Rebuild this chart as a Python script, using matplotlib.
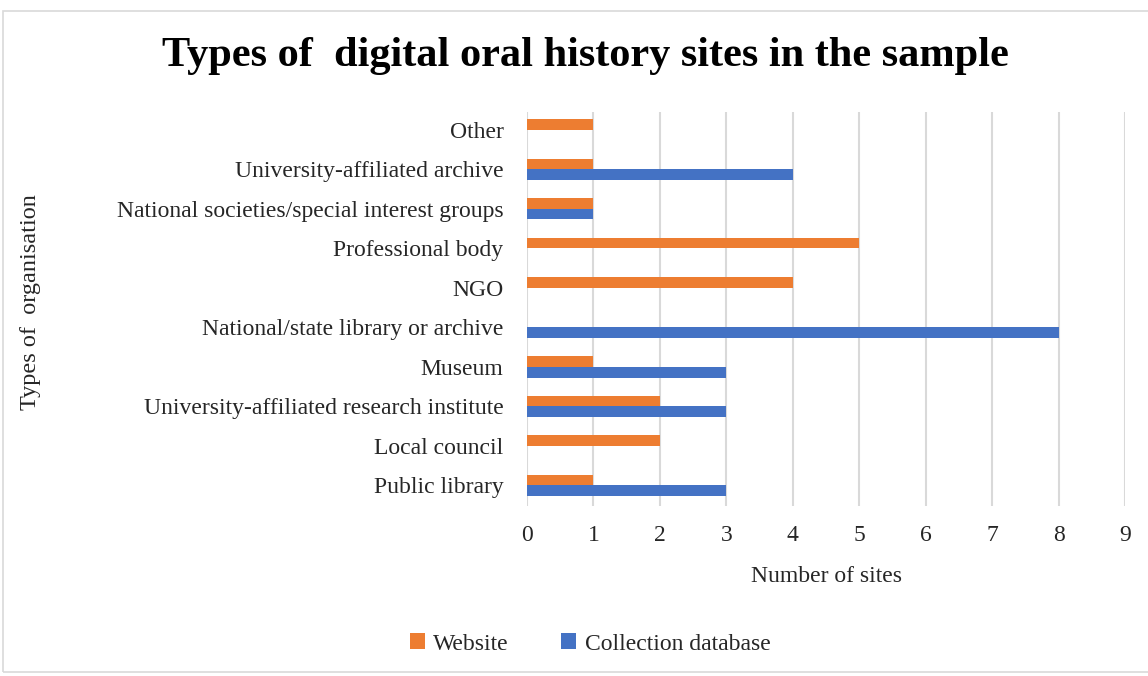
import matplotlib
matplotlib.use("Agg")
import matplotlib.pyplot as plt
import numpy as np
from matplotlib.patches import Rectangle

categories = ["Public library", "Local council", "University-affiliated research institute",
              "Museum", "National/state library or archive", "NGO", "Professional body",
              "National societies/special interest groups", "University-affiliated archive", "Other"]
website = [1, 2, 2, 1, 0, 4, 5, 1, 1, 1]
collection = [3, 0, 3, 3, 8, 0, 0, 1, 4, 0]
xticks = [0, 1, 2, 3, 4, 5, 6, 7, 8, 9]

plt.rcParams['font.family'] = ['Liberation Serif', 'DejaVu Serif']

fig = plt.figure(figsize=(11.48, 6.76), dpi=100)
fig.patches.append(Rectangle((3/1148, 4/676), 1.2, 1 - 15/676, transform=fig.transFigure,
                             fill=False, edgecolor='#d9d9d9', linewidth=1.2))
ax = fig.add_axes([527/1148, 1 - 506/676, (1125 - 527)/1148, (506 - 112)/676])

y = np.arange(len(categories))
h = 0.27
ax.barh(y + h/2, website, height=h, color='#ED7D31', label='Website', zorder=3)
ax.barh(y - h/2, collection, height=h, color='#4472C4', label='Collection database', zorder=3)

ax.set_xlim(0, 9)
ax.set_ylim(-0.52, 9.45)
ax.set_xticks(xticks)
ax.set_xticklabels([str(t) for t in xticks])
ax.set_yticks(y)
ax.set_yticklabels(categories)
ax.tick_params(axis='both', length=0, labelsize=17, colors='#262626')
ax.tick_params(axis='y', pad=17)
ax.tick_params(axis='x', pad=14)
ax.xaxis.grid(True, color='#d9d9d9', linewidth=1.5, zorder=0)
ax.set_axisbelow(True)
for s in ax.spines.values():
    s.set_visible(False)

ax.set_xlabel('Number of sites', fontsize=17, color='#262626', labelpad=14)
fig.text(31/1148, 1 - 302/676, 'Types of  organisation', rotation=90, fontsize=17.5,
         color='#262626', ha='center', va='center')
fig.text(585/1148, 1 - 56/676, 'Types of  digital oral history sites in the sample',
         fontsize=30.5, fontweight='bold', ha='center', va='center', color='black')

leg = fig.legend(loc='center', bbox_to_anchor=(590/1148, 1 - 644/676), ncol=2, frameon=False,
                 fontsize=17, handlelength=0.65, handleheight=0.65, columnspacing=2.2,
                 handletextpad=0.35)
for t in leg.get_texts():
    t.set_color('#262626')

fig.savefig('out.png', dpi=100)
